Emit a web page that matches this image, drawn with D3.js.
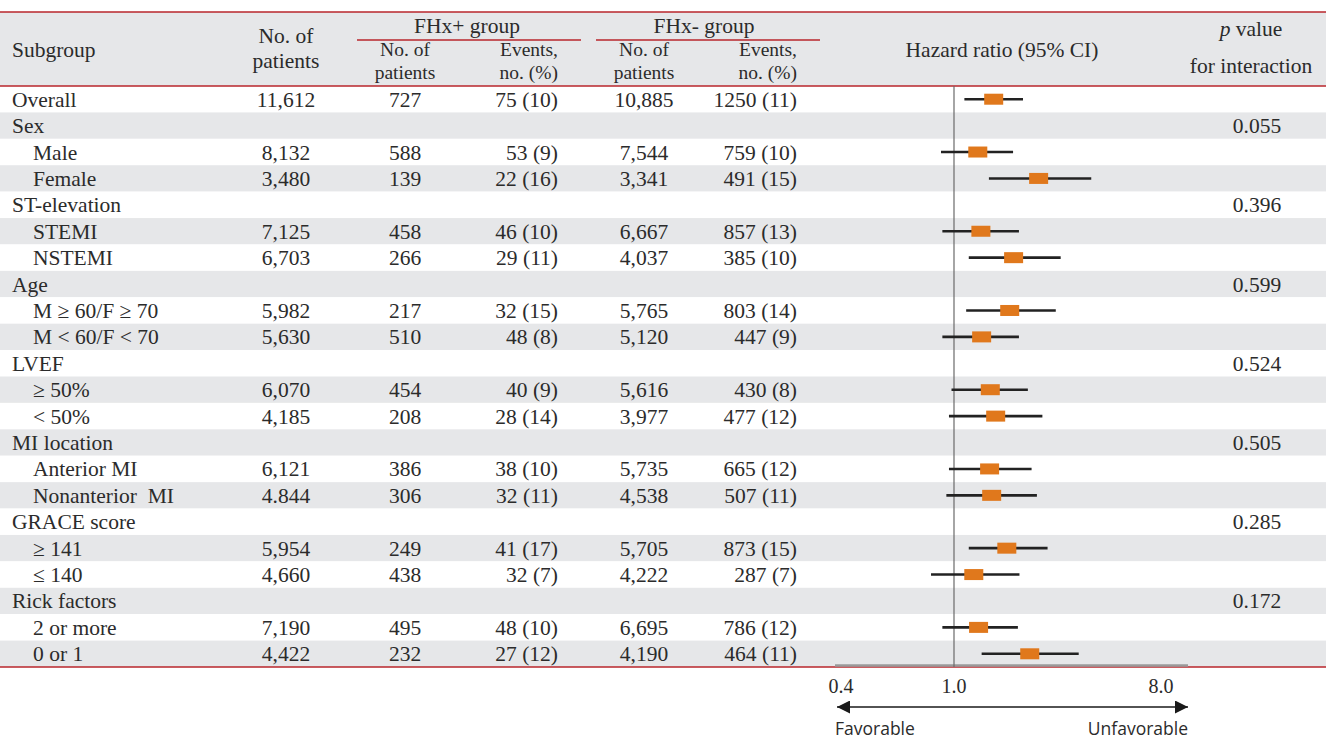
<!DOCTYPE html>
<html><head><meta charset="utf-8">
<script src="https://cdn.jsdelivr.net/npm/d3@7"></script>
<style>
body{margin:0;background:#fff}
svg{display:block}
text{font-family:"Liberation Serif","DejaVu Serif",serif;fill:#2b2b2b}
</style>
</head><body>
<svg id="c" width="1326" height="742"></svg>
<script>
// ---------- DATA ----------
const subgroups = ["Overall","Sex","Male","Female","ST-elevation","STEMI","NSTEMI","Age",
  "M \u2265 60/F \u2265 70","M < 60/F < 70","LVEF","\u2265 50%","< 50%","MI location","Anterior MI",
  "Nonanterior\u00a0 MI","GRACE score","\u2265 141","\u2264 140","Rick factors","2 or more","0 or 1"];
const indent = [0,0,1,1,0,1,1,0,1,1,0,1,1,0,1,1,0,1,1,0,1,1];
const totalPatients = ["11,612","","8,132","3,480","","7,125","6,703","","5,982","5,630","","6,070","4,185","","6,121","4.844","","5,954","4,660","","7,190","4,422"];
const fhxPlusPatients = ["727","","588","139","","458","266","","217","510","","454","208","","386","306","","249","438","","495","232"];
const fhxPlusEvents = ["75 (10)","","53 (9)","22 (16)","","46 (10)","29 (11)","","32 (15)","48 (8)","","40 (9)","28 (14)","","38 (10)","32 (11)","","41 (17)","32 (7)","","48 (10)","27 (12)"];
const fhxMinusPatients = ["10,885","","7,544","3,341","","6,667","4,037","","5,765","5,120","","5,616","3,977","","5,735","4,538","","5,705","4,222","","6,695","4,190"];
const fhxMinusEvents = ["1250 (11)","","759 (10)","491 (15)","","857 (13)","385 (10)","","803 (14)","447 (9)","","430 (8)","477 (12)","","665 (12)","507 (11)","","873 (15)","287 (7)","","786 (12)","464 (11)"];
const hazardRatio = [1.49,null,1.27,2.34,null,1.31,1.82,null,1.75,1.32,null,1.44,1.52,null,1.43,1.46,null,1.70,1.22,null,1.28,2.14];
const ciLower   = [1.11,null,0.90,1.42,null,0.91,1.16,null,1.13,0.91,null,0.98,0.96,null,0.96,0.94,null,1.16,0.83,null,0.91,1.32];
const ciUpper   = [2.00,null,1.81,3.97,null,1.92,2.92,null,2.78,1.92,null,2.10,2.43,null,2.18,2.30,null,2.56,1.93,null,1.90,3.50];
const pInteraction = ["","0.055","","","0.396","","","0.599","","","0.524","","","0.505","","","0.285","","","0.172","",""];
const axisTicks = [0.4, 1.0, 8.0];
const axisTickLabels = ["0.4","1.0","8.0"];

// ---------- LAYOUT ----------
const svg = d3.select("#c");
const RED = "#b8262b", GRAY = "#e6e7e9", ORANGE = "#e0781c";
const headTop = 12, headBottom = 86, tableBottom = 667;
const y = d3.scaleBand().domain(d3.range(subgroups.length)).range([headBottom, tableBottom]);
const x = d3.scaleLog().domain([0.4, 1, 8]).range([841, 954, 1161]);
const FS = 21.5;

// header background
svg.append("rect").attr("x",0).attr("y",headTop).attr("width",1326).attr("height",headBottom-headTop).attr("fill",GRAY);

// row shading
svg.selectAll("rect.row").data(subgroups).join("rect").attr("class","row")
  .attr("x",0).attr("y",(d,i)=>y(i)).attr("width",1326).attr("height",y.bandwidth())
  .attr("fill",(d,i)=> i%2 ? GRAY : "#fff");

// red lines
[headTop, headBottom, tableBottom].forEach(v=>{
  svg.append("line").attr("x1",0).attr("x2",1326).attr("y1",v).attr("y2",v)
    .attr("stroke",RED).attr("stroke-width",1.5);
});
// group underlines
svg.append("line").attr("x1",357).attr("x2",581).attr("y1",40).attr("y2",40).attr("stroke",RED).attr("stroke-width",1.5);
svg.append("line").attr("x1",596).attr("x2",820).attr("y1",40).attr("y2",40).attr("stroke",RED).attr("stroke-width",1.5);

// header text
function txt(s, xx, yy, anchor, opts={}) {
  const t = svg.append("text").attr("x",xx).attr("y",yy).attr("text-anchor",anchor||"start")
    .attr("font-size",opts.size||FS).text(s);
  if (opts.style) t.attr("font-style",opts.style);
  if (opts.family) t.style("font-family",opts.family);
  return t;
}
txt("Subgroup", 12, 57);
txt("No. of", 286, 43, "middle");
txt("patients", 286, 68, "middle");
txt("FHx+ group", 467, 33, "middle");
txt("FHx- group", 704, 33, "middle");
const SUB = 19.5;
txt("No. of", 405, 56, "middle", {size:SUB});
txt("patients", 405, 79, "middle", {size:SUB});
txt("Events,", 558, 56, "end", {size:SUB});
txt("no. (%)", 558, 79, "end", {size:SUB});
txt("No. of", 644, 56, "middle", {size:SUB});
txt("patients", 644, 79, "middle", {size:SUB});
txt("Events,", 797, 56, "end", {size:SUB});
txt("no. (%)", 797, 79, "end", {size:SUB});
txt("Hazard ratio (95% CI)", 1002, 57, "middle");
const pv = svg.append("text").attr("x",1251).attr("y",36).attr("text-anchor","middle").attr("font-size",FS);
pv.append("tspan").attr("font-style","italic").text("p");
pv.append("tspan").text(" value");
txt("for interaction", 1251, 73, "middle");

// body columns
const base = i => y(i) + y.bandwidth()/2 + 7.5;
const cols = [
  {data: subgroups, x: (d,i)=> indent[i] ? 33 : 12, anchor: "start"},
  {data: totalPatients, x: ()=>286, anchor: "middle"},
  {data: fhxPlusPatients, x: ()=>405, anchor: "middle"},
  {data: fhxPlusEvents, x: ()=>558, anchor: "end"},
  {data: fhxMinusPatients, x: ()=>644, anchor: "middle"},
  {data: fhxMinusEvents, x: ()=>797, anchor: "end"},
  {data: pInteraction, x: ()=>1257, anchor: "middle"}
];
cols.forEach((c,ci)=>{
  svg.append("g").selectAll("text").data(c.data).join("text")
    .attr("x",(d,i)=>c.x(d,i)).attr("y",(d,i)=>base(i))
    .attr("text-anchor",c.anchor).attr("font-size",FS)
    .style("white-space","pre")
    .text(d=>d);
});

// forest plot
svg.append("line").attr("x1",835).attr("x2",1188).attr("y1",tableBottom-1.5).attr("y2",tableBottom-1.5)
  .attr("stroke","#9a9a9a").attr("stroke-width",2.5);
svg.append("line").attr("x1",x(1)).attr("x2",x(1)).attr("y1",headBottom).attr("y2",tableBottom)
  .attr("stroke","#6a6a6a").attr("stroke-width",1.2);

const idx = d3.range(subgroups.length).filter(i=>hazardRatio[i]!=null);
const g = svg.append("g");
g.selectAll("line.ci").data(idx).join("line").attr("class","ci")
  .attr("x1",i=>x(ciLower[i])).attr("x2",i=>x(ciUpper[i]))
  .attr("y1",i=>y(i)+y.bandwidth()/2).attr("y2",i=>y(i)+y.bandwidth()/2)
  .attr("stroke","#222").attr("stroke-width",2.6);
g.selectAll("rect.hr").data(idx).join("rect").attr("class","hr")
  .attr("x",i=>x(hazardRatio[i])-9.5).attr("y",i=>y(i)+y.bandwidth()/2-5.5)
  .attr("width",19).attr("height",11).attr("fill",ORANGE);

// axis tick labels
svg.append("g").selectAll("text").data(axisTicks).join("text")
  .attr("x",d=>x(d)).attr("y",693).attr("text-anchor","middle").attr("font-size",20)
  .text((d,i)=>axisTickLabels[i]);

// arrow
const defs = svg.append("defs");
defs.append("marker").attr("id","ah").attr("viewBox","0 0 10 10").attr("refX",10).attr("refY",5)
  .attr("markerWidth",17).attr("markerHeight",13).attr("markerUnits","userSpaceOnUse")
  .attr("orient","auto-start-reverse")
  .append("path").attr("d","M0,0 L10,5 L0,10 Z").attr("fill","#1a1a1a");
svg.append("line").attr("x1",837).attr("x2",1188).attr("y1",707).attr("y2",707)
  .attr("stroke","#1a1a1a").attr("stroke-width",1.6)
  .attr("marker-start","url(#ah)").attr("marker-end","url(#ah)");
txt("Favorable", 835, 735, "start", {size:17.5, family:"'Open Sans',sans-serif"});
txt("Unfavorable", 1188, 735, "end", {size:17.5, family:"'Open Sans',sans-serif"});
</script>
</body></html>
